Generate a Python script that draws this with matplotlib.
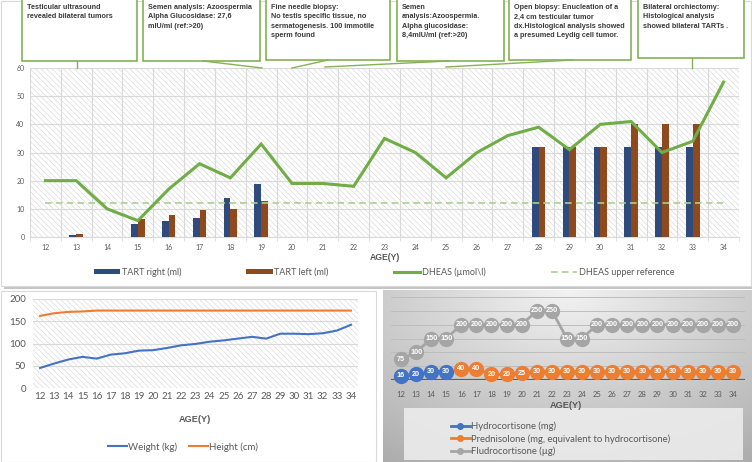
import numpy as np
import matplotlib
matplotlib.use("Agg")
import matplotlib.pyplot as plt
from matplotlib.patches import Rectangle
from matplotlib.lines import Line2D

plt.rcParams['font.family'] = ['Lato', 'DejaVu Sans']
plt.rcParams['hatch.linewidth'] = 0.4

W, H = 752, 462

# ---- data ----
ages = list(range(12, 35))

tart_ages = [13, 15, 16, 17, 18, 19, 28, 29, 30, 31, 32, 33]
tart_right = [0.8, 4.7, 5.7, 6.7, 13.8, 18.7, 32, 32, 32, 32, 32, 32]
tart_left = [1.0, 6.3, 7.9, 9.5, 9.8, 12.7, 32, 32, 32, 40, 40, 40]
dheas = [20, 20, 10, 5.8, 17, 26, 21, 33, 19, 19, 18, 35, 30, 21, 30, 36,
         39, 31, 40, 41, 30, 34, 55]
dheas_ref = 12

weight = [45, 55, 64, 70, 66, 75, 78, 84, 85, 90, 96, 99, 104, 107, 111, 115,
          111, 122, 122, 121, 123, 129, 142]
height = [162, 168, 171, 172, 174, 174, 174, 174, 174, 174, 174, 174, 174, 174,
          174, 174, 174, 174, 174, 174, 174, 174, 174]

hydro_ages = [12, 13, 14, 15]
hydro = [16, 20, 30, 30]
pred_ages = list(range(16, 35))
pred = [40, 40, 20, 20, 25, 30, 30, 30, 30, 30, 30, 30, 30, 30, 30, 30, 30, 30, 30]
fludro = [75, 100, 150, 150, 200, 200, 200, 200, 200, 250, 250, 150, 150,
          200, 200, 200, 200, 200, 200, 200, 200, 200, 200]

events = [
    "Testicular ultrasound\nrevealed bilateral tumors",
    "Semen analysis: Azoospermia\nAlpha Glucosidase: 27,6\nmIU/ml (ref:>20)",
    "Fine needle biopsy:\nNo testis specific tissue, no\nsermatogenesis. 100 immotile\nsperm found",
    "Semen\nanalysis:Azoospermia.\nAlpha glucosidase:\n8,4mIU/ml (ref:>20)",
    "Open biopsy: Enucleation of a\n2,4 cm testicular tumor\ndx.Histological analysis showed\na presumed Leydig cell tumor.",
    "Bilateral orchiectomy:\nHistological analysis\nshowed bilateral TARTs .",
]
# box (left, right, bottom) and leader line (x0, y0, x1, y1) in pixels
boxes = [(22, 137, 61), (143, 260, 61), (266, 390, 60),
         (397, 504, 61), (509, 631, 60), (638, 744, 58)]
leaders = [(77, 61, 77, 68), (203, 61, 262, 68), (328, 60, 292, 68),
           (449, 61, 325, 67), (573, 60, 446, 67), (692, 58, 692, 68)]

GREY = '#595959'
GRID = '#d9d9d9'
BOLD = ['Liberation Sans', 'DejaVu Sans']


def px_axes(left, top, right, bottom, **kw):
    return fig.add_axes([left / W, 1 - bottom / H, (right - left) / W,
                         (bottom - top) / H], **kw)


def hatch_bg(ax):
    ax.add_patch(Rectangle((0, 0), 1, 1, transform=ax.transAxes,
                           facecolor='white', edgecolor='#d4d4d4',
                           hatch='\\\\\\\\\\\\', lw=0, zorder=0))


fig = plt.figure(figsize=(W / 100, H / 100), dpi=100)

# background layer: panel frames and gradient
bg = fig.add_axes([0, 0, 1, 1], zorder=-10)
bg.set_xlim(0, W)
bg.set_ylim(H, 0)
bg.axis('off')
bg.add_patch(Rectangle((4, 285.5), 748, 3, facecolor='#c4c4c4', lw=0))
bg.add_patch(Rectangle((0.5, 0.5), 750.5, 285, facecolor='white',
                       edgecolor=GRID, lw=0.8))
bg.add_patch(Rectangle((0.5, 290.5), 375, 171, facecolor='white',
                       edgecolor=GRID, lw=0.8))
u, v = np.meshgrid(np.linspace(0, 1, 200), np.linspace(0, 1, 100))
d = np.sqrt(((u - 0.5) * 1.1) ** 2 + (v * 0.85) ** 2)
g = np.clip(0.95 - 0.27 * d, 0, 1)
bg.imshow(np.dstack([g, g, g]), extent=[383, 752, 462, 290], aspect='auto',
          zorder=1)
bg.add_patch(Rectangle((404, 408), 339, 52, facecolor='#ececec', lw=0,
                       alpha=0.9, zorder=2))

# ---- top chart ----
ax1 = px_axes(30, 68, 739, 237)
hatch_bg(ax1)
ax1.set_xlim(11.5, 34.5)
ax1.set_ylim(0, 60)
ax1.set_yticks(range(0, 61, 10))
ax1.set_xticks(ages)
ax1.set_xticks(np.arange(11.5, 35, 1), minor=True)
ax1.grid(axis='y', color=GRID, lw=0.8, zorder=1)
ax1.grid(axis='x', which='minor', color=GRID, lw=0.8, zorder=1)
ax1.set_axisbelow(True)
for s in ax1.spines.values():
    s.set_visible(False)
ax1.spines['bottom'].set_visible(True)
ax1.spines['bottom'].set_color(GRID)
ax1.tick_params(axis='both', which='major', labelsize=5, colors=GREY, length=0)
ax1.tick_params(axis='y', pad=4)
ax1.tick_params(axis='x', pad=5)
ax1.tick_params(axis='x', which='minor', length=3, color=GRID)

bw = 0.22
xs = np.array(tart_ages)
b1 = ax1.bar(xs - bw / 2, tart_right, width=bw, color='#2F4B7C', zorder=3,
             label='TART right (ml)')
b2 = ax1.bar(xs + bw / 2, tart_left, width=bw, color='#8E4A1C', zorder=3,
             label='TART left (ml)')
l1, = ax1.plot(ages, dheas, color='#70AD47', lw=2.2, zorder=5,
               solid_joinstyle='miter', label='DHEAS (µmol\\l)')
l2, = ax1.plot([ages[0], ages[-1]], [dheas_ref, dheas_ref], color='#A9D18E',
               lw=1.2, ls=(0, (4, 2.5)), zorder=4,
               label='DHEAS upper reference')
fig.text(385 / W, 1 - 258 / H, 'AGE(Y)', ha='center', va='center',
         fontsize=6.2, weight='bold', color=GREY, family=BOLD)
ax1.legend(handles=[b1, b2, l1, l2], loc='center',
           bbox_to_anchor=(384 / W, 1 - 272 / H), bbox_transform=fig.transFigure,
           ncol=4, frameon=False, fontsize=6.5, labelcolor=GREY,
           handlelength=2.9, handleheight=0.6, columnspacing=7.2,
           handletextpad=0.2)

# ---- weight / height ----
ax2 = px_axes(33, 299, 358, 388)
hatch_bg(ax2)
ax2.set_xlim(11.5, 34.5)
ax2.set_ylim(0, 200)
ax2.set_yticks(range(0, 201, 50))
ax2.set_xticks(ages)
ax2.grid(axis='y', color=GRID, lw=0.8)
ax2.set_axisbelow(True)
for s in ax2.spines.values():
    s.set_visible(False)
ax2.tick_params(axis='both', labelsize=7, colors=GREY, length=0)
ax2.tick_params(axis='y', pad=5)
ax2.tick_params(axis='x', pad=3)
w1, = ax2.plot(ages, weight, color='#4472C4', lw=1.5, zorder=3,
               label='Weight (kg)')
h1, = ax2.plot(ages, height, color='#ED7D31', lw=1.5, zorder=3,
               label='Height (cm)')
fig.text(195 / W, 1 - 420 / H, 'AGE(Y)', ha='center', va='center',
         fontsize=6.6, weight='bold', color=GREY, family=BOLD)
ax2.legend(handles=[w1, h1], loc='center',
           bbox_to_anchor=(183 / W, 1 - 447 / H), bbox_transform=fig.transFigure,
           ncol=2, frameon=False, fontsize=7, labelcolor=GREY,
           handlelength=2.0, columnspacing=1.2, handletextpad=0.1)

# ---- medication ----
ax3 = px_axes(391, 297, 745, 380)
ax3.set_facecolor('none')
ax3.set_xlim(11.34, 34.8)
ax3.set_ylim(0, 300)
ax3.set_yticks(range(0, 301, 50))
ax3.set_yticklabels([])
ax3.set_xticks(ages)
ax3.grid(axis='y', color='#bdbdbd', lw=0.7)
ax3.set_axisbelow(True)
for s in ax3.spines.values():
    s.set_visible(False)
ax3.axhline(0, color='#5f5f5f', lw=1.6, zorder=2)
ax3.tick_params(axis='both', labelsize=5.5, colors=GREY, length=0)
ax3.tick_params(axis='x', pad=8)

series = [(ages, fludro, '#A5A5A5', 'Fludrocortisone (µg)'),
          (pred_ages, pred, '#ED7D31', 'Prednisolone (mg, equivalent to hydrocortisone)'),
          (hydro_ages, hydro, '#4472C4', 'Hydrocortisone (mg)')]
handles = {}
for xs_, ys_, col, lab in series:
    ln, = ax3.plot(xs_, ys_, color=col, lw=2, marker='o', markersize=11,
                   markeredgewidth=0, zorder=3, clip_on=False, label=lab)
    for x, y in zip(xs_, ys_):
        ax3.text(x, y, str(y), ha='center', va='center', color='white',
                 fontsize=5.2, weight='bold', zorder=4, family=BOLD)
    handles[lab] = Line2D([], [], color=col, lw=2, marker='o', markersize=4)
fig.text(566 / W, 1 - 405 / H, 'AGE(Y)', ha='center', va='center',
         fontsize=6.6, weight='bold', color=GREY, family=BOLD)
order = ['Hydrocortisone (mg)', 'Prednisolone (mg, equivalent to hydrocortisone)',
         'Fludrocortisone (µg)']
ax3.legend(handles=[handles[k] for k in order], labels=order, loc='upper left',
           bbox_to_anchor=(446 / W, 1 - 417 / H), bbox_transform=fig.transFigure,
           frameon=False, fontsize=6.8, labelcolor=GREY, handlelength=2.0,
           handletextpad=0.15, labelspacing=0.3, borderpad=0)

# ---- event call-outs ----
fg = fig.add_axes([0, 0, 1, 1], zorder=10)
fg.set_facecolor('none')
fg.set_xlim(0, W)
fg.set_ylim(H, 0)
fg.axis('off')
for txt, (x0, x1, yb), (lx0, ly0, lx1, ly1) in zip(events, boxes, leaders):
    fg.plot([lx0, lx1], [ly0, ly1], color='#84B254', lw=1.0)
    fg.add_patch(Rectangle((x0, -3), x1 - x0, yb + 3, facecolor='white',
                           edgecolor='#84B254', lw=1.2))
    fg.text(x0 + 5, 4, txt, ha='left', va='top', fontsize=5.2,
            weight='bold', color='#3a3a3a', linespacing=1.48, family=BOLD)

fig.savefig('out.png', dpi=100)
